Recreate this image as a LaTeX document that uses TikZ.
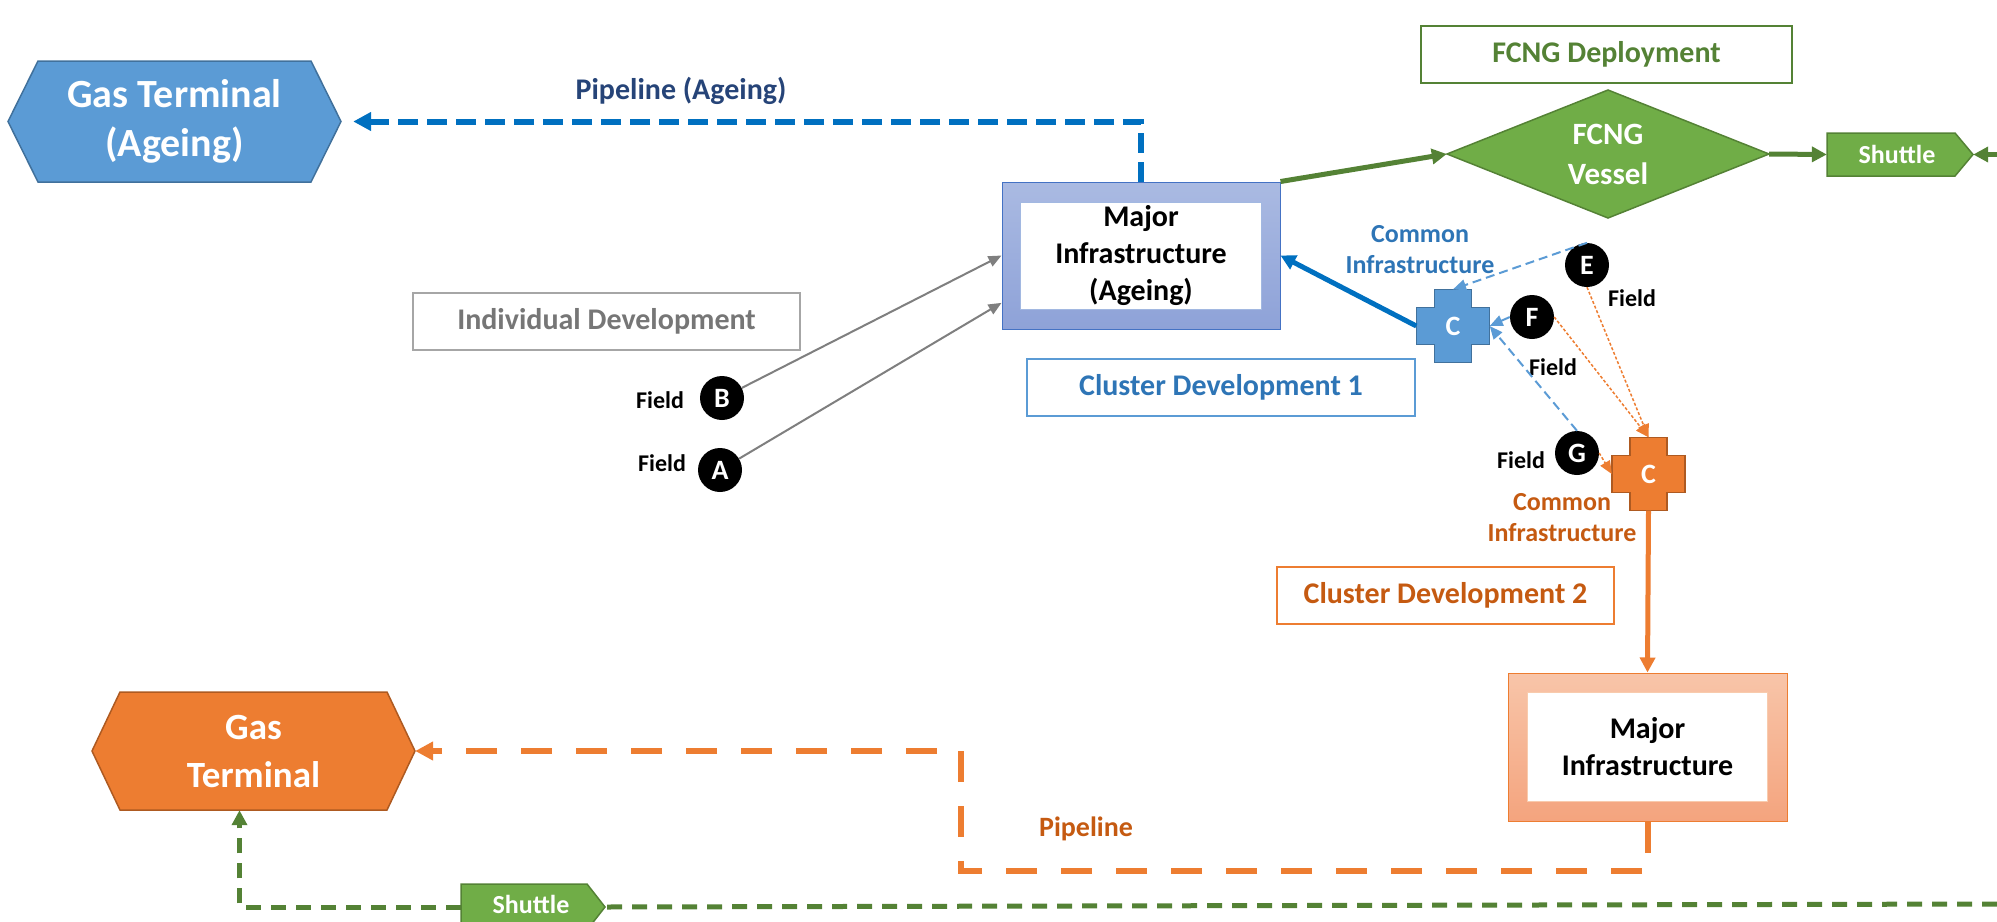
\documentclass[tikz,border=0pt]{standalone}
\usepackage{fontspec}
\setmainfont{Carlito}
\usetikzlibrary{arrows.meta,calc}
\definecolor{blueFill}{HTML}{5B9BD5}
\definecolor{blueBorder}{HTML}{41719C}
\definecolor{dkBlue}{HTML}{0070C0}
\definecolor{blueText}{HTML}{2E75B6}
\definecolor{pipeBlue}{HTML}{264478}
\definecolor{orFill}{HTML}{ED7D31}
\definecolor{orBorder}{HTML}{AE5A21}
\definecolor{orText}{HTML}{C55A11}
\definecolor{grFill}{HTML}{70AD47}
\definecolor{grBorder}{HTML}{507E32}
\definecolor{grLine}{HTML}{548235}
\definecolor{greyLine}{HTML}{7F7F7F}
\definecolor{greyBorder}{HTML}{A6A6A6}
\definecolor{greyText}{HTML}{767676}
\definecolor{mbTop}{HTML}{AABAE2}
\definecolor{mbBot}{HTML}{8EA2D8}
\definecolor{mbBorder}{HTML}{4472C4}
\definecolor{moTop}{HTML}{F8C5A9}
\definecolor{moBot}{HTML}{F4A47E}
\newcommand\myfs[2]{\fontsize{#1}{#2}\selectfont}
\tikzset{
  txt/.style={inner sep=0pt, align=center},
  boxlbl/.style={draw, line width=2pt, minimum height=57pt, inner sep=0pt, font=\bfseries\myfs{30}{36}},
  dot/.style={circle, fill=black, minimum size=44pt, inner sep=0pt, text=white, font=\bfseries\myfs{28}{32}},
  fieldlbl/.style={inner sep=0pt, font=\bfseries\myfs{24}{28}},
  bigtri/.style={-{Triangle[length=18pt,width=18pt]}},
  midtri/.style={-{Triangle[length=15pt,width=15pt]}},
  smalltri/.style={-{Triangle[length=13pt,width=11pt]}},
}
\begin{document}
\begin{tikzpicture}[x=1pt,y=-1pt]
\useasboundingbox (0,0) rectangle (1997,921);
\clip (0,0) rectangle (1997,921);

% ---------- Gas Terminal (Ageing) ----------
\draw[fill=blueFill, draw=blueBorder, line width=1.5pt, shift={(174.5,121.5)}]
  (-166.5,0) -- (-136.5,-60.5) -- (136.5,-60.5) -- (166.5,0) -- (136.5,60.5) -- (-136.5,60.5) -- cycle;
\node[txt, minimum width=333pt, minimum height=121pt, text=white, font=\bfseries\myfs{40}{49}] (gta) at (174.5,121.5) {Gas Terminal\\(Ageing)};

% ---------- Gas Terminal (orange) ----------
\draw[fill=orFill, draw=orBorder, line width=1.5pt, shift={(253.5,751)}]
  (-161.5,0) -- (-133.5,-59) -- (133.5,-59) -- (161.5,0) -- (133.5,59) -- (-133.5,59) -- cycle;
\node[txt, minimum width=323pt, minimum height=118pt, text=white, font=\bfseries\myfs{37}{48}] (got) at (253.5,751) {Gas\\Terminal};

% ---------- label boxes ----------
\node[boxlbl, draw=grLine, text=grLine, minimum width=371pt] (fcd) at (1606.5,54) {FCNG Deployment};
\node[boxlbl, draw=greyBorder, text=greyText, minimum width=387pt] (ind) at (606.5,321) {Individual Development};
\node[boxlbl, draw=blueFill, text=blueText, minimum width=388pt] (cd1) at (1221,387.5) {Cluster Development 1};
\node[boxlbl, draw=orFill, text=orText, minimum width=337pt] (cd2) at (1445.5,595.5) {Cluster Development 2};

% ---------- Major Infrastructure (Ageing) ----------
\node[draw=mbBorder, line width=1pt, top color=mbTop, bottom color=mbBot, minimum width=278pt, minimum height=147pt, inner sep=0pt] (mia) at (1141,255.5) {};
\node[draw=mbBorder!50, line width=1pt, fill=white, minimum width=241pt, minimum height=107pt, txt, font=\bfseries\myfs{30}{37}] (miaT) at (1141,255.5) {Major\\Infrastructure\\(Ageing)};

% ---------- Major Infrastructure (orange) ----------
\node[draw=orFill, line width=1pt, top color=moTop, bottom color=moBot, minimum width=279pt, minimum height=148pt, inner sep=0pt] (mio) at (1647.5,747) {};
\node[draw=orFill!40, line width=1pt, fill=white, minimum width=240pt, minimum height=109pt, txt, font=\bfseries\myfs{30}{37}] (mioT) at (1647.5,747) {Major\\Infrastructure};

% ---------- FCNG Vessel ----------
\draw[fill=grFill, draw=grLine, line width=1.5pt, shift={(1608,154)}]
  (-161,0) -- (0,-64) -- (161,0) -- (0,64) -- cycle;
\node[txt, minimum width=322pt, minimum height=128pt, text=white, font=\bfseries\myfs{31}{40}] (fv) at (1608,154) {FCNG\\Vessel};

% ---------- Shuttles ----------
\draw[fill=grFill, draw=grLine, line width=1.5pt, shift={(1900,154.5)}]
  (-73,-21.5) -- (55,-21.5) -- (73,0) -- (55,21.5) -- (-73,21.5) -- cycle;
\node[txt, minimum width=146pt, minimum height=43pt, text=white, font=\bfseries\myfs{26}{30}] (sh1) at (1900,154.5) {\hspace*{-6pt}Shuttle};
\draw[fill=grFill, draw=grLine, line width=1.5pt, shift={(533,907)}]
  (-72,-23) -- (54,-23) -- (72,0) -- (54,23) -- (-72,23) -- cycle;
\node[txt, minimum width=144pt, minimum height=46pt, text=white, font=\bfseries\myfs{26}{30}] (sh2) at (533,907) {\raisebox{6pt}{Shuttle}\hspace*{4pt}};

% ---------- Crosses ----------
\draw[fill=blueFill, draw=blueBorder, line width=1.5pt, shift={(1453,326)}]
  (-18.5,-36.5) -- (18.5,-36.5) -- (18.5,-18.5) -- (36.5,-18.5) -- (36.5,18.5) -- (18.5,18.5) -- (18.5,36.5) -- (-18.5,36.5) -- (-18.5,18.5) -- (-36.5,18.5) -- (-36.5,-18.5) -- (-18.5,-18.5) -- cycle;
\node[txt, minimum size=73pt, text=white, font=\bfseries\myfs{28}{32}] (cb) at (1453,326) {C};
\draw[fill=orFill, draw=orBorder, line width=1.5pt, shift={(1648.5,474)}]
  (-18.5,-36.5) -- (18.5,-36.5) -- (18.5,-18.5) -- (36.5,-18.5) -- (36.5,18.5) -- (18.5,18.5) -- (18.5,36.5) -- (-18.5,36.5) -- (-18.5,18.5) -- (-36.5,18.5) -- (-36.5,-18.5) -- (-18.5,-18.5) -- cycle;
\node[txt, minimum size=73pt, text=white, font=\bfseries\myfs{28}{32}] (co) at (1648.5,474) {C};

% ---------- field dots ----------
\node[dot] (fa) at (720,470) {A};
\node[dot] (fb) at (722,398) {B};
\node[dot] (fe) at (1587,265) {E};
\node[dot] (ff) at (1532,317) {F};
\node[dot] (fg) at (1577,453) {G};
\node[fieldlbl] (lfa) at (662,463) {Field};
\node[fieldlbl] (lfb) at (660,400) {Field};
\node[fieldlbl] (lfe) at (1632,298) {Field};
\node[fieldlbl] (lff) at (1553,367) {Field};
\node[fieldlbl] (lfg) at (1521,460) {Field};

% ---------- text labels ----------
\node[txt, text=pipeBlue, font=\bfseries\myfs{30}{36}] (lpa) at (681,91) {Pipeline (Ageing)};
\node[txt, text=orText, font=\bfseries\myfs{28}{34}] (lp) at (1086,829) {Pipeline};
\node[txt, text=blueText, font=\bfseries\myfs{26}{31}] (lcb) at (1420,250) {Common\\Infrastructure};
\node[txt, text=orText, font=\bfseries\myfs{26}{31}] (lco) at (1562,518) {Common\\Infrastructure};

% ---------- connectors ----------
% blue pipeline (ageing)
\draw[dkBlue, line width=6pt, dash pattern=on 20pt off 9pt, bigtri, shorten >=12pt]
  (mia.north) |- (gta.east);
% orange pipeline
\coordinate (pc1) at (961,871);
\draw[orFill, line width=6pt, dash pattern=on 31pt off 24pt, bigtri]
  (mio.south) |- (pc1) |- (got.east);
% green shuttle line bottom
\coordinate (rt2) at (1997,904);
\draw[grLine, line width=5pt, dash pattern=on 15pt off 10pt] (rt2) -- (sh2.east);
\draw[grLine, line width=5pt, dash pattern=on 15pt off 10pt, midtri]
  (sh2.west) -| ([xshift=-14pt]got.south);
% green solid
\draw[grLine, line width=5pt, midtri] (mia.north east) -- (fv.west);
\draw[grLine, line width=5pt, midtri] (fv.east) -- (sh1.west);
\coordinate (rt1) at (1997,154.5);
\draw[grLine, line width=5pt, midtri] (rt1) -- (sh1.east);
% blue solid thick
\draw[dkBlue, line width=5pt, midtri] (cb.west) -- (mia.east);
% orange solid thick
\draw[orFill, line width=5pt, midtri] (co.south) -- (mio.north);
% grey
\draw[greyLine, line width=2pt, smalltri] (fb) -- (mia.west);
\draw[greyLine, line width=2pt, smalltri] (fa) -- ($(mia.north west)!0.82!(mia.south west)$);
% blue dashed thin
\draw[blueFill, line width=2pt, dash pattern=on 9pt off 5pt, smalltri] (fe.north) -- (cb.north);
\draw[blueFill, line width=2pt, dash pattern=on 9pt off 5pt, smalltri] (fg.north) -- (cb.east);
\draw[blueFill, line width=2pt, smalltri] (ff.west) -- (cb.east);
% orange dotted thin
\draw[orFill, line width=1.5pt, dash pattern=on 3pt off 2pt, smalltri] (fe.south) -- (co.north);
\draw[orFill, line width=1.5pt, dash pattern=on 3pt off 2pt, smalltri] (ff.east) -- (co.north);
\draw[orFill, line width=1.5pt, dash pattern=on 3pt off 2pt, smalltri] (fg.east) -- (co.west);
\end{tikzpicture}
\end{document}
